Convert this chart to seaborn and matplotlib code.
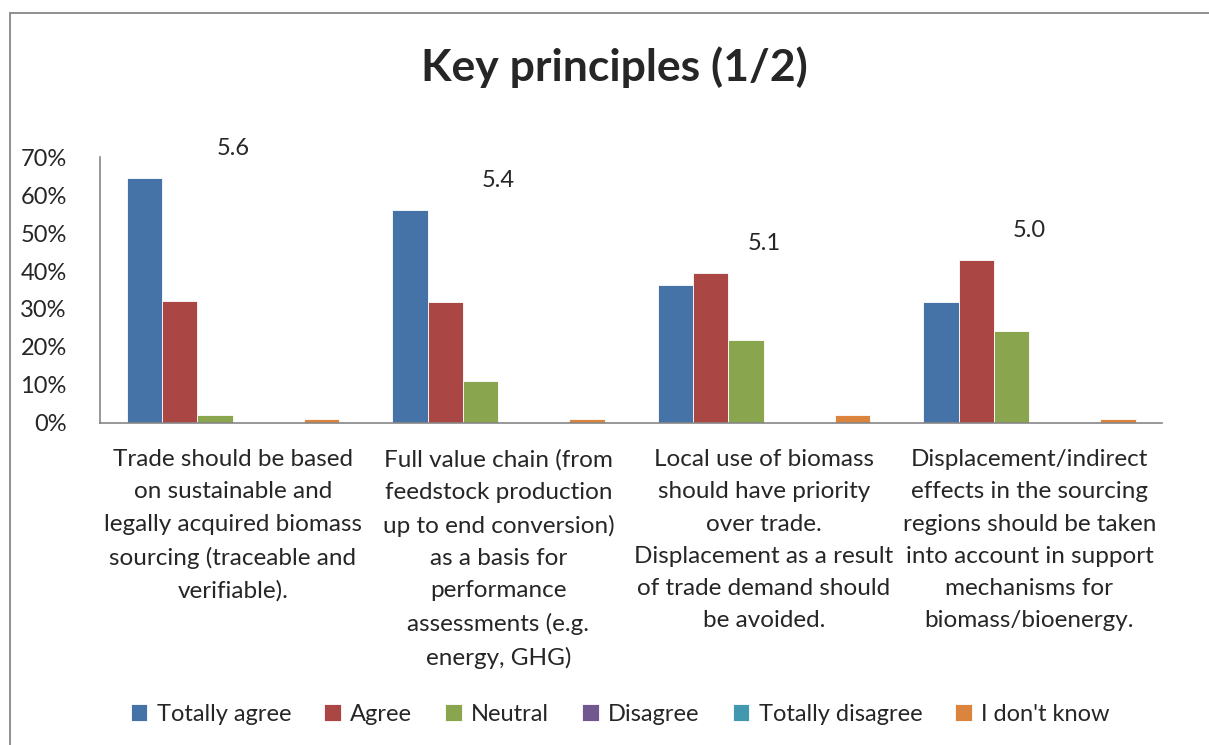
import pandas as pd
import matplotlib.pyplot as plt
import seaborn as sns
from matplotlib.patches import Rectangle

statements = [
    "Trade should be based\non sustainable and\nlegally acquired biomass\nsourcing (traceable and\nverifiable).",
    "Full value chain (from\nfeedstock production\nup to end conversion)\nas a basis for\nperformance\nassessments (e.g.\nenergy, GHG)",
    "Local use of biomass\nshould have priority\nover trade.\nDisplacement as a result\nof trade demand should\nbe avoided.",
    "Displacement/indirect\neffects in the sourcing\nregions should be taken\ninto account in support\nmechanisms for\nbiomass/bioenergy.",
]
responses = ["Totally agree", "Agree", "Neutral", "Disagree", "Totally disagree", "I don't know"]

totally_agree = [64.5, 56.1, 36.3, 31.8]
agree = [32.1, 31.8, 39.6, 42.9]
neutral = [2.1, 10.9, 21.9, 24.2]
disagree = [0, 0, 0, 0]
totally_disagree = [0, 0, 0, 0]
dont_know = [1.0, 1.0, 2.1, 1.0]

mean_scores = ["5.6", "5.4", "5.1", "5.0"]

colors = ["#4572A7", "#AA4643", "#89A54E", "#71588F", "#4198AF", "#DB843D"]

series = [totally_agree, agree, neutral, disagree, totally_disagree, dont_know]
rows = []
for resp, vals in zip(responses, series):
    for st, v in zip(statements, vals):
        rows.append({"statement": st, "response": resp, "value": v})
df = pd.DataFrame(rows)

sns.set_style("white")
plt.rcParams['font.family'] = ['Lato', 'DejaVu Sans']

fig = plt.figure(figsize=(12.09, 7.45), dpi=100)
ax = fig.add_axes([0.0827, 0.4326, 0.8786, 0.3563])

sns.barplot(data=df, x="statement", y="value", hue="response",
            palette=colors, saturation=1, width=0.8, ax=ax,
            edgecolor="white", linewidth=0.6)

ax.set_xlim(-0.5, 3.5)
ax.set_ylim(0, 70)
ax.set_yticks(range(0, 71, 10))
ax.set_yticklabels([f"{t}%" for t in range(0, 71, 10)], fontsize=17)
ax.tick_params(axis="y", length=0, pad=24)
ax.tick_params(axis="x", length=0, pad=19)
ax.set_xticks(range(len(statements)))
ax.set_xticklabels(statements, fontsize=17.5, linespacing=1.66, va="top")
ax.set_xlabel("")
ax.set_ylabel("")

for s in ["top", "right"]:
    ax.spines[s].set_visible(False)
for s in ["left", "bottom"]:
    ax.spines[s].set_color("#868686")
    ax.spines[s].set_linewidth(1.2)

# mean score labels above each group
for i, lab in enumerate(mean_scores):
    top = max(v[i] for v in series)
    ax.annotate(lab, (i, top), xytext=(0, 21), textcoords="offset points",
                ha="center", va="center", fontsize=17)

fig.text(0.508, 0.91, "Key principles (1/2)", ha="center", va="center",
         fontsize=32, fontweight="bold")

handles, labels = ax.get_legend_handles_labels()
ax.legend_.remove()
fig.legend(handles, labels, loc="center", bbox_to_anchor=(0.513, 0.041), ncol=6,
           frameon=False, fontsize=17, handlelength=0.7, handleheight=0.7,
           handletextpad=0.4, columnspacing=1.4)

# chart border
fig.patches.append(Rectangle((10 / 1209, -0.1), 1.2, 1 - 13 / 745 + 0.1,
                             transform=fig.transFigure, fill=False,
                             edgecolor="#868686", linewidth=1.3))

fig.savefig("out.png", dpi=100)
